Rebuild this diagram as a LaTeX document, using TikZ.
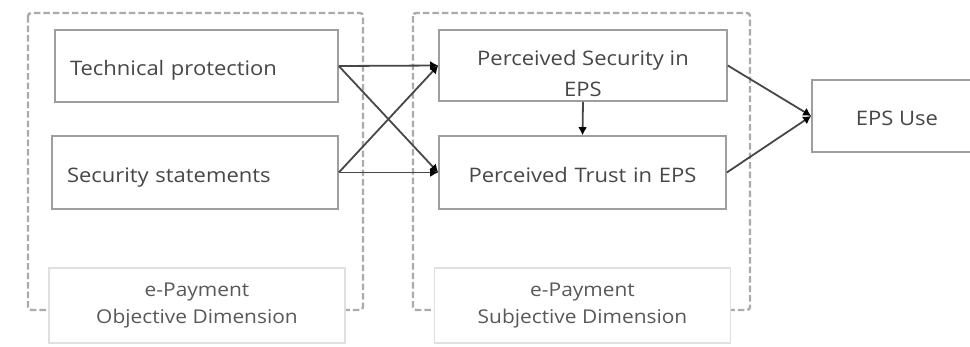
\documentclass[tikz,border=0pt]{standalone}
\usepackage{fontspec}
\setmainfont[FakeStretch=1.1]{Open Sans}
\usetikzlibrary{arrows.meta,calc}
\begin{document}
\begin{tikzpicture}[x=1pt,y=-1pt,
  font=\fontsize{20}{31}\selectfont,
  dimbox/.style={draw=black!33, line width=2.4pt, dash pattern=on 6.5pt off 3pt, rounded corners=3pt},
  factor/.style={draw=black!38, line width=1.6pt, fill=white, text=black!72, inner sep=0pt,
    text height=19pt, text depth=0pt},
  facttext/.style={text=black!72, align=center, inner sep=0pt},
  dimlabel/.style={draw=black!12, line width=1.4pt, fill=white, text=black!65, align=center, inner sep=0pt,
    minimum width=296pt, minimum height=75pt, font=\fontsize{19}{27}\selectfont},
  link/.style={draw=black!72, line width=1.8pt, -{Latex[length=8pt,width=9pt,color=black]}}
]
\clip (0,0) rectangle (970,346);
\fill[white] (0,0) rectangle (970,346);

% dashed dimension frames
\draw[dimbox] (28,13) rectangle (363,310);
\draw[dimbox] (413,13) rectangle (750,310);

% objective factors
\node[factor, minimum width=283pt, minimum height=72pt, text width=253pt, align=left]
  (tp) at (196.5,66) {Technical protection};
\node[factor, minimum width=286pt, minimum height=73pt, text width=256pt, align=left]
  (ss) at (195,172.5) {Security statements};

% subjective factors
\node[factor, minimum width=288pt, minimum height=71pt] (ps) at (583,65.5) {};
\node[facttext] (pstext) at (583,73.5) {Perceived Security in\\EPS};
\node[factor, minimum width=287pt, minimum height=73pt, text width=287pt, align=center]
  (pt) at (582.5,172.5) {Perceived Trust in EPS};

% outcome
\node[factor, minimum width=170pt, minimum height=72pt, align=center]
  (use) at (897,116) {EPS Use};

% dimension captions
\node[dimlabel] (obj) at (197,305.5) {e-Payment\\Objective Dimension};
\node[dimlabel] (sub) at (582.5,305.5) {e-Payment\\Subjective Dimension};

% relations
\draw[link] (tp.east) -- (ps.west);
\draw[link] (tp.east) -- (pt.west);
\draw[link] (ss.east) -- (ps.west);
\draw[link] (ss.east) -- (pt.west);
\draw[link] (ps.south) -- (pt.north);
\draw[link] (ps.east) -- (use.west);
\draw[link] (pt.east) -- (use.west);
\end{tikzpicture}
\end{document}
